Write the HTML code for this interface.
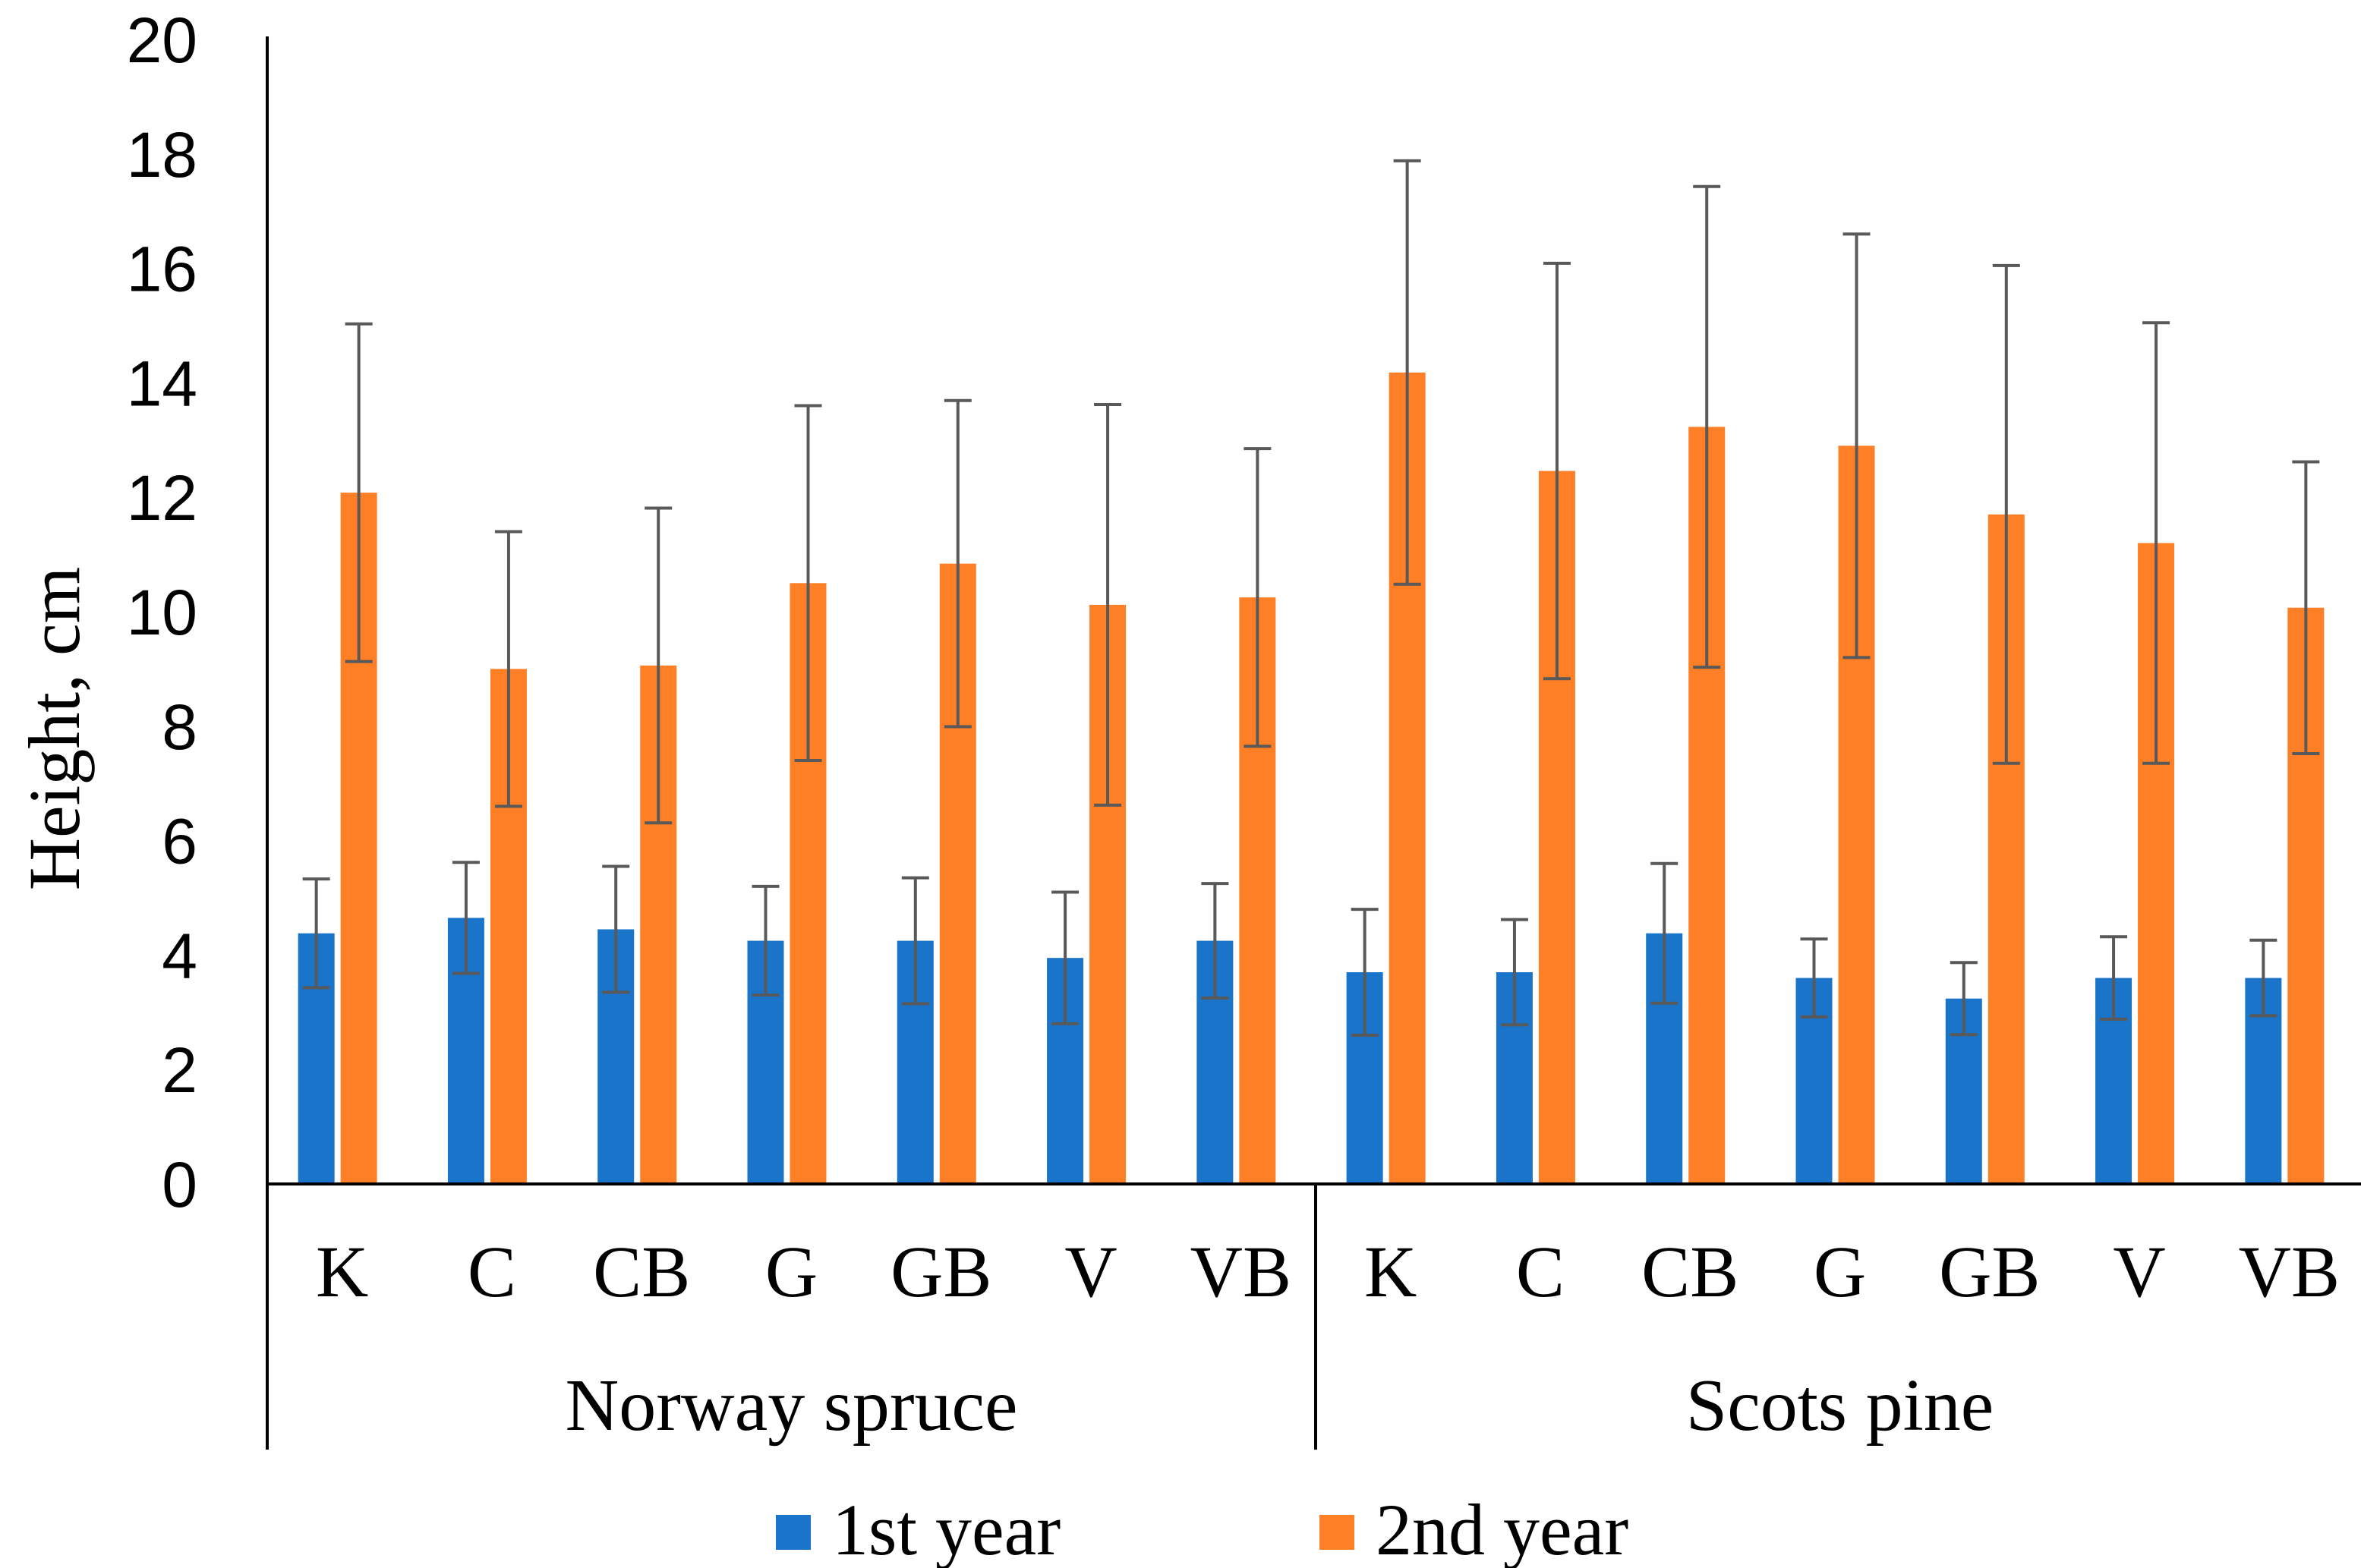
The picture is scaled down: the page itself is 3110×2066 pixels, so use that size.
<!DOCTYPE html>
<html><head><meta charset="utf-8"><style>
html,body{margin:0;padding:0;background:#fff;}
svg{display:block;font-family:"Liberation Serif",serif;}
</style></head><body>
<svg id="chart" width="3110" height="2066" viewBox="0 0 1555 1033" xmlns="http://www.w3.org/2000/svg"></svg>
<script>
const categories = ["K","C","CB","G","GB","V","VB","K","C","CB","G","GB","V","VB"];
const groups = ["Norway spruce","Scots pine"];
const year1 = [4.38,4.65,4.45,4.25,4.25,3.95,4.25,3.7,3.7,4.38,3.6,3.24,3.6,3.6];
const year1Err = [0.95,0.97,1.1,0.95,1.1,1.15,1.0,1.1,0.92,1.22,0.68,0.63,0.72,0.66];
const year2 = [12.08,9.0,9.06,10.5,10.84,10.12,10.25,14.18,12.46,13.23,12.9,11.7,11.2,10.07];
const year2Err = [2.95,2.4,2.75,3.1,2.85,3.5,2.6,3.7,3.63,4.2,3.7,4.35,3.85,2.55];
const yTicks = [0,2,4,6,8,10,12,14,16,18,20];

const svg = document.getElementById('chart');
const NS = 'http://www.w3.org/2000/svg';
const X0 = 176, X1 = 1557, Y0 = 780, Ytop = 26, YMAX = 20;
const catW = (X1 - X0) / categories.length;
const y = v => Y0 - v / YMAX * (Y0 - Ytop);
const cx = i => X0 + catW * (i + 0.5);
function mk(tag, attrs, parent) {
  const e = document.createElementNS(NS, tag);
  for (const k in attrs) e.setAttribute(k, attrs[k]);
  (parent || svg).appendChild(e);
  return e;
}
// y ticks
yTicks.forEach(t => {
  const e = mk('text', {x: 130, y: y(t) + 15, 'text-anchor': 'end', 'font-size': 42, fill: '#000', 'font-family': '"Liberation Sans", sans-serif'});
  
  
  e.textContent = t;
});
const yt = mk('text', {x: 0, y: 0, transform: 'translate(52,480) rotate(-90)', 'text-anchor': 'middle', 'font-size': 48, fill: '#000'});


yt.textContent = 'Height, cm';
// bars
function bar(v, err, x0, color, name) {
  const r = mk('rect', {x: x0, y: y(v), width: 24, height: Y0 - y(v), fill: color});
  
  
  const xc = x0 + 12;
  const g = mk('g', {stroke: '#595959', 'stroke-width': 2});
  
  
  mk('line', {x1: xc, x2: xc, y1: y(v + err), y2: y(v - err)}, g);
  mk('line', {x1: xc - 9, x2: xc + 9, y1: y(v + err), y2: y(v + err)}, g);
  mk('line', {x1: xc - 9, x2: xc + 9, y1: y(v - err), y2: y(v - err)}, g);
}
categories.forEach((c, i) => {
  const m = cx(i);
  bar(year1[i], year1Err[i], m - 29, '#1a74c9', 'bar-1st-year');
  bar(year2[i], year2Err[i], m - 1, '#fe7f26', 'bar-2nd-year');
  const t = mk('text', {x: m, y: 854, 'text-anchor': 'middle', 'font-size': 48, fill: '#000'});
  
  
  t.textContent = c;
});
// axes
const ax = mk('g', {stroke: '#000', 'stroke-width': 2});


mk('line', {x1: X0, x2: X0, y1: 24, y2: Y0}, ax);
mk('line', {x1: X0, x2: X1, y1: Y0, y2: Y0}, ax);
[0, 7, 14].forEach(k => {
  const xx = X0 + catW * k - (k === 14 ? 1 : 0);
  mk('line', {x1: xx, x2: xx, y1: Y0, y2: 955}, ax);
});
groups.forEach((gname, gi) => {
  const t = mk('text', {x: X0 + catW * (gi * 7 + 3.5), y: 942, 'text-anchor': 'middle', 'font-size': 49, fill: '#000'});
  
  
  t.textContent = gname;
});
// legend
[['1st year', '#1a74c9', 511], ['2nd year', '#fe7f26', 869]].forEach(([lab, col, lx]) => {
  const g = mk('g', {});
  
  
  mk('rect', {x: lx, y: 998, width: 23, height: 23, fill: col}, g);
  const t = mk('text', {x: lx + 37, y: 1024, 'font-size': 48, fill: '#000'}, g);
  t.textContent = lab;
});
</script>
</body></html>
